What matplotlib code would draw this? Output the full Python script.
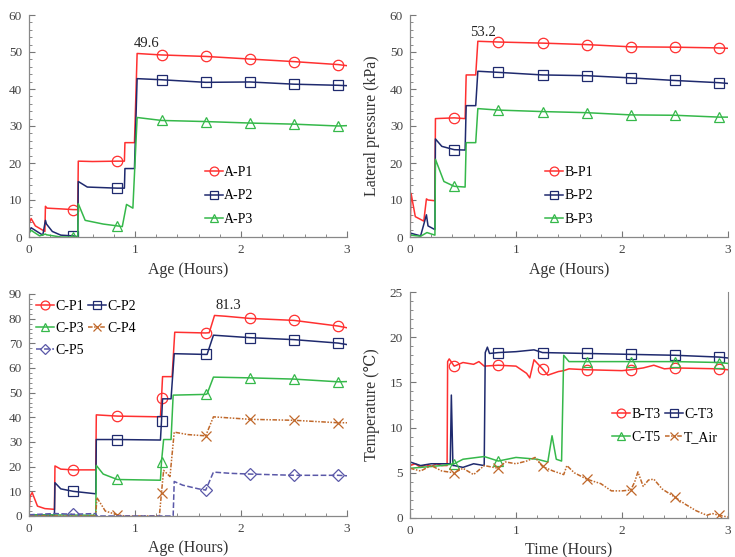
import numpy as np
import matplotlib
matplotlib.use('Agg')
import matplotlib.pyplot as plt
from matplotlib.ticker import MultipleLocator

plt.rcParams['font.family'] = ['Liberation Serif', 'DejaVu Serif']
plt.rcParams['axes.unicode_minus'] = False

RED = '#ff3030'
NAVY = '#1f2a6e'
GREEN = '#35b84a'
BROWN = '#c0682a'
PURPLE = '#5a58a8'

# ---- Panel A (lateral pressure, kPa) ----
a_p1_t = [0, 0.02, 0.06, 0.15, 0.155, 0.17, 0.3, 0.417, 0.46, 0.465, 0.6, 0.833, 0.9, 0.905, 0.995, 1.02, 1.25, 1.667, 2.083, 2.5, 2.917, 3.0]
a_p1_v = [3.5, 5.0, 3.0, 1.5, 8.3, 7.8, 7.6, 7.4, 7.4, 20.5, 20.4, 20.5, 20.5, 25.5, 25.5, 49.6, 49.2, 48.8, 48.1, 47.4, 46.6, 46.3]
a_p2_t = [0, 0.02, 0.13, 0.155, 0.165, 0.22, 0.3, 0.417, 0.46, 0.465, 0.55, 0.833, 0.9, 0.905, 0.995, 1.02, 1.25, 1.667, 2.083, 2.5, 2.917, 3.0]
a_p2_v = [1.5, 2.5, 0.5, 4.5, 3.5, 1.5, 0.5, 0.3, 0.1, 15.0, 13.5, 13.2, 13.2, 18.5, 18.5, 42.8, 42.5, 41.8, 41.9, 41.3, 41.0, 40.9]
a_p3_t = [0, 0.02, 0.1, 0.155, 0.165, 0.3, 0.417, 0.46, 0.465, 0.53, 0.7, 0.833, 0.88, 0.92, 0.98, 1.02, 1.25, 1.667, 2.083, 2.5, 2.917, 3.0]
a_p3_v = [1.0, 1.8, 0.3, 0.8, 0.6, 0.0, 0.0, 0.0, 9.0, 4.5, 3.5, 3.0, 2.8, 8.8, 7.8, 32.3, 31.5, 31.2, 30.8, 30.5, 30.0, 30.1]

# ---- Panel B ----
b_p1_t = [0, 0.01, 0.05, 0.13, 0.155, 0.17, 0.235, 0.24, 0.417, 0.52, 0.53, 0.62, 0.64, 0.833, 1.25, 1.667, 2.083, 2.5, 2.917, 3.0]
b_p1_v = [1.0, 11.8, 5.5, 4.3, 10.3, 10.0, 9.8, 32.0, 32.2, 32.0, 43.8, 43.8, 52.9, 52.7, 52.4, 52.0, 51.4, 51.3, 51.1, 51.0]
b_p2_t = [0, 0.01, 0.1, 0.155, 0.17, 0.235, 0.24, 0.3, 0.417, 0.52, 0.53, 0.62, 0.64, 0.833, 1.25, 1.667, 2.083, 2.5, 2.917, 3.0]
b_p2_v = [0.3, 1.0, 0.3, 6.0, 3.0, 2.0, 26.5, 24.5, 23.6, 23.5, 35.5, 35.5, 44.8, 44.5, 43.8, 43.6, 43.0, 42.3, 41.7, 41.5]
b_p3_t = [0, 0.01, 0.1, 0.16, 0.235, 0.24, 0.32, 0.417, 0.52, 0.53, 0.62, 0.64, 0.833, 1.25, 1.667, 2.083, 2.5, 2.917, 3.0]
b_p3_v = [0.2, 0.5, 0.2, 1.2, 0.5, 21.0, 15.0, 13.7, 13.5, 25.5, 25.5, 34.7, 34.3, 33.9, 33.6, 33.0, 32.9, 32.4, 32.4]

# ---- Panel C ----
c_p1_t = [0, 0.01, 0.03, 0.08, 0.15, 0.24, 0.245, 0.3, 0.417, 0.63, 0.635, 0.833, 1.24, 1.25, 1.26, 1.35, 1.375, 1.667, 1.7, 1.75, 1.85, 2.083, 2.5, 2.917, 3.0]
c_p1_v = [1.0, 8.0, 9.5, 4.0, 3.0, 2.7, 20.3, 19.0, 18.7, 18.7, 41.0, 40.5, 40.2, 47.8, 56.5, 56.5, 74.5, 74.2, 74.3, 81.3, 81.0, 80.1, 79.3, 77.0, 76.3]
c_p2_t = [0, 0.24, 0.245, 0.3, 0.417, 0.63, 0.635, 0.833, 1.24, 1.25, 1.26, 1.34, 1.37, 1.667, 1.68, 1.74, 2.083, 2.5, 2.917, 3.0]
c_p2_v = [0.5, 0.3, 13.5, 11.0, 10.0, 9.0, 31.0, 31.0, 30.8, 38.5, 47.5, 47.5, 65.8, 65.5, 65.5, 73.3, 72.3, 71.5, 70.1, 69.5]
c_p3_t = [0, 0.63, 0.635, 0.7, 0.833, 1.24, 1.25, 1.27, 1.34, 1.36, 1.667, 1.68, 1.74, 2.083, 2.5, 2.917, 3.0]
c_p3_v = [0.5, 0.3, 20.5, 17.0, 14.8, 14.5, 22.0, 31.0, 31.0, 49.0, 49.3, 49.5, 56.3, 56.0, 55.5, 54.4, 54.5]
c_p4_t = [0, 0.63, 0.64, 0.72, 0.833, 0.9, 1.23, 1.25, 1.27, 1.33, 1.37, 1.5, 1.667, 1.74, 2.083, 2.5, 2.917, 3.0]
c_p4_v = [0.0, 0.0, 7.5, 2.0, 0.5, 0.0, 0.0, 9.5, 18.5, 16.0, 34.0, 33.0, 32.5, 40.2, 39.2, 38.8, 37.8, 37.8]
c_p5_t = [0, 0.24, 0.417, 0.63, 0.64, 1.36, 1.37, 1.45, 1.6, 1.667, 1.74, 1.9, 2.083, 2.5, 2.917, 3.0]
c_p5_v = [0.5, 1.0, 0.7, 1.0, 0.0, 0.0, 14.0, 12.5, 11.0, 10.5, 17.8, 17.3, 17.0, 16.5, 16.5, 16.3]

# ---- Panel D (temperature) ----
b_t3_t = [0, 0.05, 0.1, 0.15, 0.2, 0.25, 0.3, 0.35, 0.355, 0.37, 0.417, 0.5, 0.6, 0.65, 0.7, 0.833, 1.0, 1.1, 1.13, 1.17, 1.25, 1.3, 1.4, 1.45, 1.5, 1.667, 2.0, 2.083, 2.2, 2.3, 2.4, 2.5, 2.917, 3.0]
b_t3_v = [5.8, 6.0, 5.6, 5.9, 5.7, 6.0, 5.8, 5.8, 17.3, 17.6, 16.8, 17.2, 17.0, 17.3, 16.8, 16.9, 16.8, 16.0, 15.5, 17.5, 16.5, 15.8, 16.2, 16.3, 16.5, 16.4, 16.3, 16.4, 16.6, 16.9, 16.5, 16.6, 16.5, 16.4]
c_t3_t = [0, 0.05, 0.1, 0.2, 0.3, 0.38, 0.39, 0.405, 0.417, 0.5, 0.6, 0.7, 0.71, 0.73, 0.75, 0.833, 1.0, 1.17, 1.25, 1.667, 2.083, 2.5, 2.917, 3.0]
c_t3_v = [6.2, 6.0, 5.8, 6.0, 6.0, 6.0, 13.6, 5.8, 5.8, 5.6, 6.0, 5.8, 18.3, 18.9, 18.2, 18.3, 18.4, 18.6, 18.3, 18.2, 18.1, 18.0, 17.8, 17.7]
c_t5_t = [0, 0.2, 0.3, 0.417, 0.5, 0.7, 0.833, 1.0, 1.2, 1.3, 1.34, 1.38, 1.43, 1.45, 1.5, 1.667, 2.083, 2.5, 2.917, 3.0]
c_t5_v = [5.5, 5.7, 5.8, 6.0, 6.5, 6.8, 6.3, 6.7, 6.5, 6.2, 9.1, 6.5, 6.3, 18.0, 17.3, 17.3, 17.3, 17.3, 17.2, 17.1]
t_air_t = [0, 0.1, 0.2, 0.3, 0.417, 0.5, 0.6, 0.7, 0.833, 0.9, 1.0, 1.1, 1.18, 1.25, 1.35, 1.45, 1.48, 1.55, 1.667, 1.8, 1.9, 2.0, 2.083, 2.12, 2.15, 2.2, 2.25, 2.3, 2.38, 2.5, 2.6, 2.7, 2.8, 2.85, 2.917, 3.0]
t_air_v = [5.5, 5.2, 5.8, 5.2, 5.0, 5.5, 4.8, 5.8, 5.5, 6.2, 6.0, 6.3, 6.7, 5.7, 5.2, 4.8, 5.8, 5.0, 4.3, 3.8, 3.0, 3.0, 3.1, 4.0, 5.1, 3.5, 4.2, 4.3, 3.2, 2.3, 1.5, 0.8, 0.3, 0.5, 0.3, 0.1]

ALL_MARKS = [0.417, 0.833, 1.25, 1.667, 2.083, 2.5, 2.917]
DASHDOT = (0, (3, 1, 1, 1, 1, 1))


def mark_idx(t, marks):
    return [i for i, x in enumerate(t) if any(abs(x - m) < 1e-6 for m in marks)]


def draw(ax, t, v, label, color, marker, ls='-', marks=ALL_MARKS, ms=7.5):
    ax.plot(t, v, linestyle=ls, color=color, lw=1.1, marker=marker, markevery=mark_idx(t, marks),
            markersize=ms, markerfacecolor='none', markeredgecolor=color, markeredgewidth=0.9,
            label=label)


def style(ax, ymax, ymajor, yminor, xlabel):
    ax.set_xlim(0, 3)
    ax.set_ylim(0, ymax)
    ax.xaxis.set_major_locator(MultipleLocator(1))
    ax.xaxis.set_minor_locator(MultipleLocator(0.2))
    ax.yaxis.set_major_locator(MultipleLocator(ymajor))
    ax.yaxis.set_minor_locator(MultipleLocator(yminor))
    ax.tick_params(which='major', direction='in', length=4, color='#777777', labelcolor='#444444',
                   labelsize=9.5, pad=5)
    ax.tick_params(which='minor', direction='in', length=2.5, color='#777777')
    for s in ['top', 'right']:
        ax.spines[s].set_visible(False)
    for s in ['left', 'bottom']:
        ax.spines[s].set_color('#888888')
        ax.spines[s].set_linewidth(0.9)
    ax.set_xlabel(xlabel, fontsize=11.5, color='#333333', labelpad=4)


def legend(ax, handles, labels, x, y, ncol=1, spacing=0.75):
    ax.legend(handles, labels, ncol=ncol, loc='upper left', bbox_to_anchor=(x, y),
              frameon=False, fontsize=10, borderpad=0, borderaxespad=0,
              handlelength=1.3, handletextpad=0.1, labelspacing=spacing, columnspacing=0.3,
              markerscale=0.85)


fig = plt.figure(figsize=(7.35, 5.57), dpi=100)
W, H = 735, 557
def axes_px(l, t, r, b):
    return fig.add_axes([l / W, 1 - b / H, (r - l) / W, (b - t) / H])

ax1 = axes_px(29, 15, 347, 237)
ax2 = axes_px(410, 15, 728, 237)
ax3 = axes_px(29, 294, 347, 516)
ax4 = axes_px(410, 292, 728, 518)

# Panel A
draw(ax1, a_p1_t, a_p1_v, 'A-P1', RED, 'o')
draw(ax1, a_p2_t, a_p2_v, 'A-P2', NAVY, 's')
draw(ax1, a_p3_t, a_p3_v, 'A-P3', GREEN, '^')
style(ax1, 60, 10, 2, 'Age (Hours)')
ax1.set_ylabel('Lateral pressure (kPa)', fontsize=11.5, color='#333333')
ax1.yaxis.set_label_coords(-0.105, 0.5)
ax1.text(1.11, 52.3, '49.6', fontsize=10.5, color='#222222', ha='center', va='center')
h, l = ax1.get_legend_handles_labels()
legend(ax1, h, l, 0.553, 0.32)

# Panel B
draw(ax2, b_p1_t, b_p1_v, 'B-P1', RED, 'o')
draw(ax2, b_p2_t, b_p2_v, 'B-P2', NAVY, 's')
draw(ax2, b_p3_t, b_p3_v, 'B-P3', GREEN, '^')
style(ax2, 60, 10, 2, 'Age (Hours)')
ax2.set_ylabel('Lateral pressure (kPa)', fontsize=11.5, color='#333333')
ax2.yaxis.set_label_coords(-0.094, 0.5)
ax2.text(0.69, 55.3, '53.2', fontsize=10.5, color='#222222', ha='center', va='center')
h, l = ax2.get_legend_handles_labels()
legend(ax2, h, l, 0.425, 0.32)

# Panel C
draw(ax3, c_p1_t, c_p1_v, 'C-P1', RED, 'o')
draw(ax3, c_p2_t, c_p2_v, 'C-P2', NAVY, 's')
draw(ax3, c_p3_t, c_p3_v, 'C-P3', GREEN, '^', marks=ALL_MARKS[1:])
draw(ax3, c_p4_t, c_p4_v, 'C-P4', BROWN, 'x', ls=DASHDOT, marks=ALL_MARKS[1:])
draw(ax3, c_p5_t, c_p5_v, 'C-P5', PURPLE, 'D', ls='--', marks=[0.417] + ALL_MARKS[3:], ms=6)
style(ax3, 90, 10, 2, 'Age (Hours)')
ax3.set_ylabel('Lateral pressure (kPa)', fontsize=11.5, color='#333333')
ax3.yaxis.set_label_coords(-0.105, 0.5)
ax3.text(1.88, 85.5, '81.3', fontsize=10.5, color='#222222', ha='center', va='center')
h, l = ax3.get_legend_handles_labels()
legend(ax3, [h[0], h[2], h[4], h[1], h[3]], [l[0], l[2], l[4], l[1], l[3]], 0.022, 0.973,
       ncol=2, spacing=0.65)

# Panel D
draw(ax4, b_t3_t, b_t3_v, 'B-T3', RED, 'o')
draw(ax4, c_t3_t, c_t3_v, 'C-T3', NAVY, 's', marks=ALL_MARKS[1:])
draw(ax4, c_t5_t, c_t5_v, 'C-T5', GREEN, '^', marks=[0.417, 0.833] + ALL_MARKS[3:])
draw(ax4, t_air_t, t_air_v, 'T_Air', BROWN, 'x', ls=DASHDOT)
style(ax4, 25, 5, 1, 'Time (Hours)')
ax4.spines['right'].set_visible(True)
ax4.spines['right'].set_color('#888888')
ax4.set_ylabel('Temperature (℃)', fontsize=11.5, color='#333333')
ax4.yaxis.set_label_coords(-0.094, 0.5)
h, l = ax4.get_legend_handles_labels()
legend(ax4, [h[0], h[2], h[1], h[3]], [l[0], l[2], l[1], l[3]], 0.635, 0.487,
       ncol=2, spacing=0.7)

fig.savefig('out.png', dpi=100)
